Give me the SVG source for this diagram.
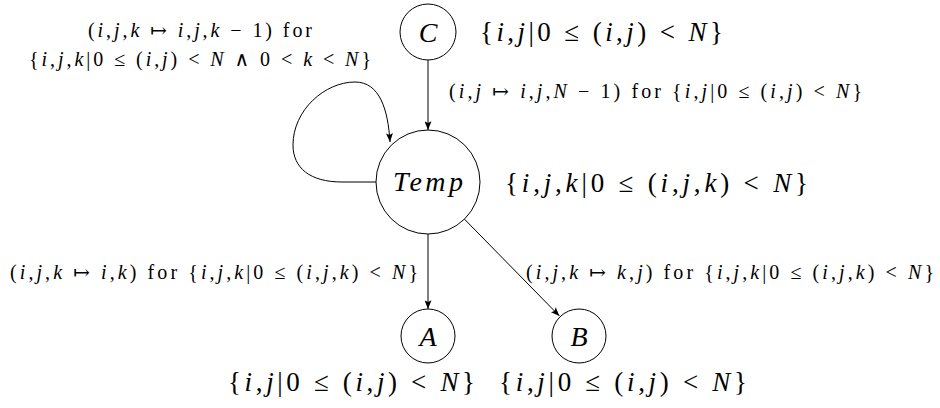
<svg xmlns="http://www.w3.org/2000/svg" width="940" height="408" viewBox="0 0 940 408">
<style>
text{font-family:"Liberation Serif","DejaVu Serif",serif;fill:#000}
.m{font-size:20px}
.b{font-size:27px}
.n{font-size:28px;font-style:italic}
.v{font-style:italic}
.node{fill:#fff;stroke:#000;stroke-width:1}
.edge{fill:none;stroke:#000;stroke-width:1}
</style>
<defs>
<marker id="arr" viewBox="0 0 10 8" refX="10" refY="4" markerWidth="9" markerHeight="7" markerUnits="userSpaceOnUse" orient="auto">
<path d="M0,0 L10,4 L0,8 L2,4 z" fill="#000"/>
</marker>
</defs>
<g id="connectors">
<path class="edge" d="M428,60 L428,130" marker-end="url(#arr)"/>
<path class="edge" d="M376,182 L342,182 C310,182 293,168 293,145 C293,110 325,82 355,82 C380,82 388,110 390,142" marker-end="url(#arr)"/>
<path class="edge" d="M428,234 L428,309" marker-end="url(#arr)"/>
<path class="edge" d="M464.4,219.1 L559.4,316" marker-end="url(#arr)"/>
<text class="m" x="200" y="37" text-anchor="middle" textLength="224" lengthAdjust="spacing">(<tspan class="v">i</tspan>,<tspan class="v">j</tspan>,<tspan class="v">k</tspan> ↦ <tspan class="v">i</tspan>,<tspan class="v">j</tspan>,<tspan class="v">k</tspan> − 1) for</text>
<text class="m" x="29" y="66" textLength="342" lengthAdjust="spacing">{<tspan class="v">i</tspan>,<tspan class="v">j</tspan>,<tspan class="v">k</tspan>|0 ≤ (<tspan class="v">i</tspan>,<tspan class="v">j</tspan>) &lt; <tspan class="v">N</tspan> ∧ 0 &lt; <tspan class="v">k</tspan> &lt; <tspan class="v">N</tspan>}</text>
<text class="m" x="449" y="98" textLength="413" lengthAdjust="spacing">(<tspan class="v">i</tspan>,<tspan class="v">j</tspan> ↦ <tspan class="v">i</tspan>,<tspan class="v">j</tspan>,<tspan class="v">N</tspan> − 1) for {<tspan class="v">i</tspan>,<tspan class="v">j</tspan>|0 ≤ (<tspan class="v">i</tspan>,<tspan class="v">j</tspan>) &lt; <tspan class="v">N</tspan>}</text>
<text class="m" x="10" y="279" textLength="408" lengthAdjust="spacing">(<tspan class="v">i</tspan>,<tspan class="v">j</tspan>,<tspan class="v">k</tspan> ↦ <tspan class="v">i</tspan>,<tspan class="v">k</tspan>) for {<tspan class="v">i</tspan>,<tspan class="v">j</tspan>,<tspan class="v">k</tspan>|0 ≤ (<tspan class="v">i</tspan>,<tspan class="v">j</tspan>,<tspan class="v">k</tspan>) &lt; <tspan class="v">N</tspan>}</text>
<text class="m" x="526" y="279" textLength="408" lengthAdjust="spacing">(<tspan class="v">i</tspan>,<tspan class="v">j</tspan>,<tspan class="v">k</tspan> ↦ <tspan class="v">k</tspan>,<tspan class="v">j</tspan>) for {<tspan class="v">i</tspan>,<tspan class="v">j</tspan>,<tspan class="v">k</tspan>|0 ≤ (<tspan class="v">i</tspan>,<tspan class="v">j</tspan>,<tspan class="v">k</tspan>) &lt; <tspan class="v">N</tspan>}</text>
</g>
<g id="node-C">
<circle class="node" cx="428" cy="32" r="28"/>
<text class="n" x="428" y="42" text-anchor="middle">C</text>
<text class="b" x="480" y="41" textLength="243" lengthAdjust="spacing">{<tspan class="v">i</tspan>,<tspan class="v">j</tspan>|0 ≤ (<tspan class="v">i</tspan>,<tspan class="v">j</tspan>) &lt; <tspan class="v">N</tspan>}</text>
</g>
<g id="node-Temp">
<circle class="node" cx="428" cy="182" r="52"/>
<text class="n" x="428" y="191" text-anchor="middle" textLength="70" lengthAdjust="spacing">Temp</text>
<text class="b" x="505" y="192" textLength="303" lengthAdjust="spacing">{<tspan class="v">i</tspan>,<tspan class="v">j</tspan>,<tspan class="v">k</tspan>|0 ≤ (<tspan class="v">i</tspan>,<tspan class="v">j</tspan>,<tspan class="v">k</tspan>) &lt; <tspan class="v">N</tspan>}</text>
</g>
<g id="node-A">
<circle class="node" cx="428" cy="336" r="27"/>
<text class="n" x="428" y="346" text-anchor="middle">A</text>
<text class="b" x="228" y="391" textLength="247" lengthAdjust="spacing">{<tspan class="v">i</tspan>,<tspan class="v">j</tspan>|0 ≤ (<tspan class="v">i</tspan>,<tspan class="v">j</tspan>) &lt; <tspan class="v">N</tspan>}</text>
</g>
<g id="node-B">
<circle class="node" cx="579" cy="336" r="27"/>
<text class="n" x="579" y="346" text-anchor="middle">B</text>
<text class="b" x="499" y="391" textLength="248" lengthAdjust="spacing">{<tspan class="v">i</tspan>,<tspan class="v">j</tspan>|0 ≤ (<tspan class="v">i</tspan>,<tspan class="v">j</tspan>) &lt; <tspan class="v">N</tspan>}</text>
</g>
</svg>
